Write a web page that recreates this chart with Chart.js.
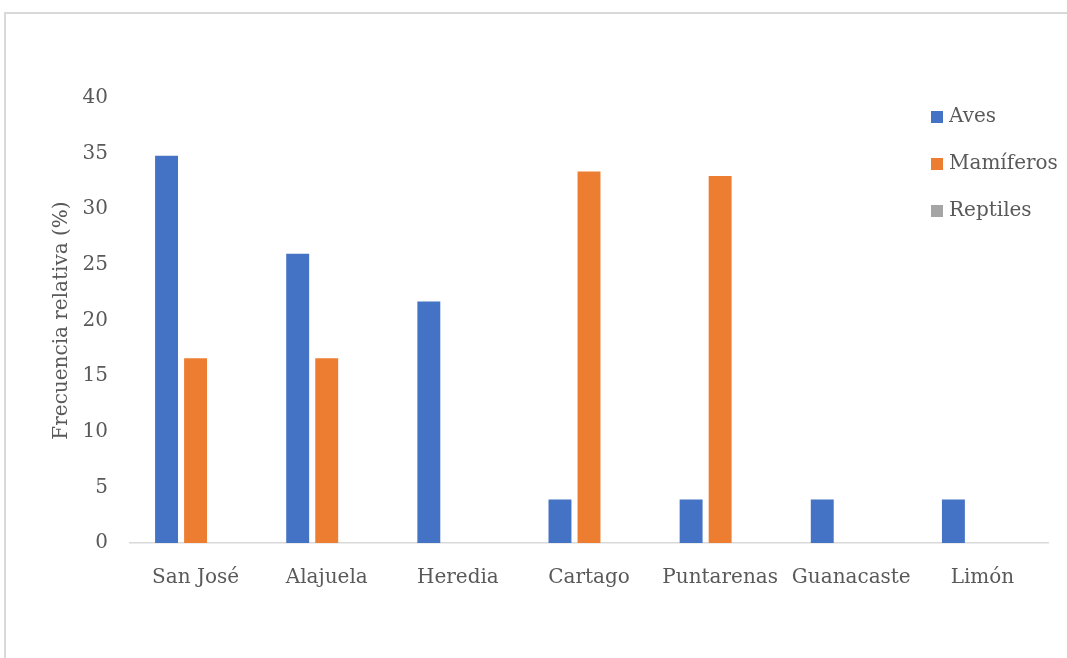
<!DOCTYPE html>
<html>
<head>
<meta charset="utf-8">
<script src="https://cdn.jsdelivr.net/npm/chart.js@4/dist/chart.umd.min.js"></script>
<style>
  html, body { margin: 0; padding: 0; background: #fff; overflow: hidden; }
  #frame {
    position: absolute; left: 4px; top: 12px; width: 1080px; height: 680px;
    border: 2px solid #d9d9d9; box-sizing: border-box;
  }
  #wrap { position: absolute; left: 0; top: 0; width: 1067px; height: 658px; }
</style>
</head>
<body>
<div id="frame"></div>
<div id="wrap"><canvas id="grafico"></canvas></div>
<script>
// Datos
const provincias = ['San José', 'Alajuela', 'Heredia', 'Cartago', 'Puntarenas', 'Guanacaste', 'Limón'];
const aves = [34.8, 26.0, 21.7, 3.9, 3.9, 3.9, 3.9];
const mamiferos = [16.6, 16.6, 0, 33.4, 33.0, 0, 0];
const reptiles = [0, 0, 0, 0, 0, 0, 0];
const ticksY = [0, 5, 10, 15, 20, 25, 30, 35, 40];

const GRIS_TEXTO = '#595959';
const FUENTE = "'DejaVu Serif', 'Liberation Serif', serif";

// Leyenda dibujada a mano dentro del área del gráfico (como en Excel)
const leyendaDerecha = {
    id: 'leyendaDerecha',
    afterDraw(chart) {
        const ctx = chart.ctx;
        ctx.save();
        ctx.font = '20px ' + FUENTE;
        ctx.textBaseline = 'middle';
        ctx.textAlign = 'left';
        chart.data.datasets.forEach((ds, i) => {
            const y = 117 + i * 47;
            ctx.fillStyle = ds.backgroundColor;
            ctx.fillRect(931, y - 6, 12, 12);
            ctx.fillStyle = GRIS_TEXTO;
            ctx.fillText(ds.label, 949, y);
        });
        ctx.restore();
    }
};

new Chart(document.getElementById('grafico'), {
    type: 'bar',
    data: {
        labels: provincias,
        datasets: [
            { label: 'Aves', data: aves, backgroundColor: '#4472C4' },
            { label: 'Mamíferos', data: mamiferos, backgroundColor: '#ED7D31' },
            { label: 'Reptiles', data: reptiles, backgroundColor: '#A5A5A5' }
        ]
    },
    options: {
        responsive: true,
        maintainAspectRatio: false,
        animation: false,
        categoryPercentage: 0.664,
        barPercentage: 0.79,
        layout: { padding: { left: 0, right: 19, top: 98, bottom: 0 } },
        plugins: {
            legend: { display: false },
            tooltip: { enabled: false }
        },
        scales: {
            x: {
                grid: { display: false, drawTicks: false },
                border: { display: true, color: '#d9d9d9', width: 1.5 },
                ticks: {
                    color: GRIS_TEXTO,
                    font: { family: FUENTE, size: 20 },
                    padding: 23,
                    maxRotation: 0,
                    autoSkip: false
                },
                afterFit: (s) => { s.height = 115; }
            },
            y: {
                min: 0,
                max: 40,
                grid: { display: false, drawTicks: false },
                border: { display: false },
                afterBuildTicks: (s) => { s.ticks = ticksY.map(v => ({ value: v })); },
                ticks: {
                    color: GRIS_TEXTO,
                    font: { family: FUENTE, size: 20 },
                    padding: 22
                },
                title: {
                    display: true,
                    text: 'Frecuencia relativa (%)',
                    color: GRIS_TEXTO,
                    font: { family: FUENTE, size: 20 },
                    padding: { top: 50, bottom: 0 }
                },
                afterFit: (s) => { s.width = 130; }
            }
        }
    },
    plugins: [leyendaDerecha]
});
</script>
</body>
</html>
